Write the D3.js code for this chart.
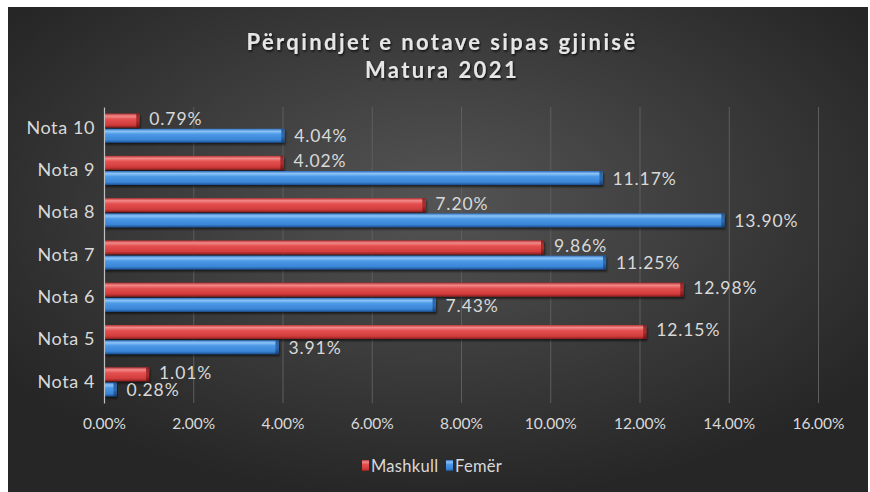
<!DOCTYPE html>
<html>
<head>
<meta charset="utf-8">
<script src="https://cdn.jsdelivr.net/npm/d3@7"></script>
<style>
  html, body { margin: 0; padding: 0; background: #ffffff; }
  svg { display: block; }
</style>
</head>
<body>
<div id="chart"></div>
<script>
// data, top to bottom as drawn
const categories = ['Nota 10', 'Nota 9', 'Nota 8', 'Nota 7', 'Nota 6', 'Nota 5', 'Nota 4'];
const mashkull = [0.79, 4.02, 7.20, 9.86, 12.98, 12.15, 1.01];
const femer = [4.04, 11.17, 13.90, 11.25, 7.43, 3.91, 0.28];
const seriesNames = ['Mashkull', 'Femër'];
const xTicks = [0, 2, 4, 6, 8, 10, 12, 14, 16];
const titleLines = ['Përqindjet e notave sipas gjinisë', 'Matura 2021'];

const width = 870;
const height = 492;
const font = 'Lato, "Liberation Sans", sans-serif';

const svg = d3.select('#chart')
  .append('svg')
  .attr('width', width)
  .attr('height', height);

const defs = svg.append('defs');

// background glow
const bg = defs.append('radialGradient')
  .attr('id', 'bg')
  .attr('cx', '0.5').attr('cy', '0.4').attr('r', '0.62');
bg.append('stop').attr('offset', '0%').attr('stop-color', '#545454');
bg.append('stop').attr('offset', '100%').attr('stop-color', '#262626');

// cylinder-ish bar fills
function barGradient(id, stops) {
  const g = defs.append('linearGradient')
    .attr('id', id)
    .attr('x1', 0).attr('y1', 0).attr('x2', 0).attr('y2', 1);
  stops.forEach(s => g.append('stop').attr('offset', s[0]).attr('stop-color', s[1]));
}
barGradient('red', [['0%', '#b83232'], ['18%', '#f28a8a'], ['40%', '#e45050'], ['80%', '#d23c3c'], ['100%', '#8e2020']]);
barGradient('blue', [['0%', '#2e6fbd'], ['18%', '#8cc4f7'], ['40%', '#4b98e6'], ['80%', '#3a85d6'], ['100%', '#1c4f8f']]);
barGradient('redEnd', [['0%', '#7a1818'], ['50%', '#a82828'], ['100%', '#6a1010']]);
barGradient('blueEnd', [['0%', '#184a88'], ['50%', '#2866b0'], ['100%', '#123c70']]);

const shadow = defs.append('filter').attr('id', 'shadow')
  .attr('x', '-5%').attr('y', '-30%').attr('width', '110%').attr('height', '180%');
shadow.append('feDropShadow')
  .attr('dx', 1).attr('dy', 2).attr('stdDeviation', 1.2)
  .attr('flood-color', '#000').attr('flood-opacity', 0.6);

const titleShadow = defs.append('filter').attr('id', 'tshadow');
titleShadow.append('feDropShadow')
  .attr('dx', 1).attr('dy', 1.5).attr('stdDeviation', 1.2)
  .attr('flood-color', '#000').attr('flood-opacity', 0.8);

// chart area
svg.append('rect')
  .attr('x', 8).attr('y', 7)
  .attr('width', 860).attr('height', 485)
  .attr('fill', 'url(#bg)');

// title
svg.append('g')
  .attr('filter', 'url(#tshadow)')
  .selectAll('text')
  .data(titleLines)
  .join('text')
  .attr('x', 442)
  .attr('y', (d, i) => 50 + i * 28)
  .attr('text-anchor', 'middle')
  .attr('font-family', font)
  .attr('font-weight', 'bold')
  .attr('font-size', 22)
  .attr('letter-spacing', 2.4)
  .attr('fill', '#e6e6e6')
  .text(d => d);

const x = d3.scaleLinear().domain([0, 16]).range([104, 818]);
const y = d3.scaleBand()
  .domain(categories)
  .range([107, 403])
  .paddingInner(0.31)
  .paddingOuter(0.155);
const ySub = d3.scaleBand()
  .domain(seriesNames)
  .range([0, y.bandwidth()])
  .paddingInner(0.08);

// gridlines
svg.append('g')
  .attr('transform', 'translate(0,403)')
  .call(d3.axisBottom(x).tickValues(xTicks).tickSize(-296).tickFormat(''))
  .call(g => g.select('.domain').remove())
  .call(g => g.selectAll('line').attr('stroke', '#5e5e5e').attr('stroke-width', 1)
    .filter(d => d === 0).remove());

// x tick labels
svg.append('g')
  .attr('transform', 'translate(0,403)')
  .call(d3.axisBottom(x).tickValues(xTicks).tickSize(0).tickPadding(15)
    .tickFormat(d => d.toFixed(2) + '%'))
  .call(g => g.select('.domain').remove())
  .call(g => g.selectAll('text')
    .attr('font-family', font)
    .attr('font-size', 15.5)
    .attr('fill', '#d9d9d9'));

const rows = categories.map((c, i) => ({ cat: c, vals: [mashkull[i], femer[i]] }));
const fills = ['red', 'blue'];

const groups = svg.append('g')
  .selectAll('g')
  .data(rows)
  .join('g')
  .attr('transform', d => `translate(0,${y(d.cat)})`);

const bars = groups.selectAll('g.bar')
  .data(d => d.vals.map((v, k) => ({ v, k })))
  .join('g')
  .attr('class', 'bar')
  .attr('filter', 'url(#shadow)');

bars.append('rect')
  .attr('x', x(0))
  .attr('y', d => ySub(seriesNames[d.k]))
  .attr('width', d => x(d.v) - x(0))
  .attr('height', ySub.bandwidth())
  .attr('fill', d => `url(#${fills[d.k]})`);

// darker bevel at bar end
bars.append('rect')
  .attr('x', d => Math.max(x(0), x(d.v) - 3))
  .attr('y', d => ySub(seriesNames[d.k]))
  .attr('width', d => Math.min(3, x(d.v) - x(0)))
  .attr('height', ySub.bandwidth())
  .attr('fill', d => `url(#${fills[d.k]}End)`)
  .attr('opacity', 0.85);

// data labels
groups.selectAll('text.val')
  .data(d => d.vals.map((v, k) => ({ v, k })))
  .join('text')
  .attr('class', 'val')
  .attr('x', d => x(d.v) + 10)
  .attr('y', d => ySub(seriesNames[d.k]) + ySub.bandwidth() / 2)
  .attr('dy', d => d.k === 0 ? '0.25em' : '0.38em')
  .attr('font-family', font)
  .attr('font-size', 17.5)
  .attr('letter-spacing', 0.9)
  .attr('fill', '#d9d9d9')
  .text(d => d.v.toFixed(2) + '%');

// category axis
svg.append('g')
  .attr('transform', `translate(${x(0)},0)`)
  .call(d3.axisLeft(y).tickSize(0).tickPadding(9))
  .call(g => g.select('.domain').attr('stroke', '#bfbfbf').attr('stroke-width', 1.2))
  .call(g => g.selectAll('text')
    .attr('font-family', font)
    .attr('font-size', 18)
    .attr('letter-spacing', 0.6)
    .attr('fill', '#d9d9d9'));

// legend
const legend = svg.append('g').attr('transform', 'translate(362,466)');
const legendItems = legend.selectAll('g')
  .data(seriesNames)
  .join('g')
  .attr('transform', (d, i) => `translate(${i * 84},0)`);
legendItems.append('rect')
  .attr('x', 0).attr('y', -6)
  .attr('width', 7).attr('height', 11)
  .attr('fill', (d, i) => `url(#${fills[i]})`);
legendItems.append('text')
  .attr('x', 9)
  .attr('y', 0)
  .attr('dy', '0.35em')
  .attr('font-family', font)
  .attr('font-size', 16.5)
  .attr('letter-spacing', 0.3)
  .attr('fill', '#d9d9d9')
  .text(d => d);
</script>
</body>
</html>
